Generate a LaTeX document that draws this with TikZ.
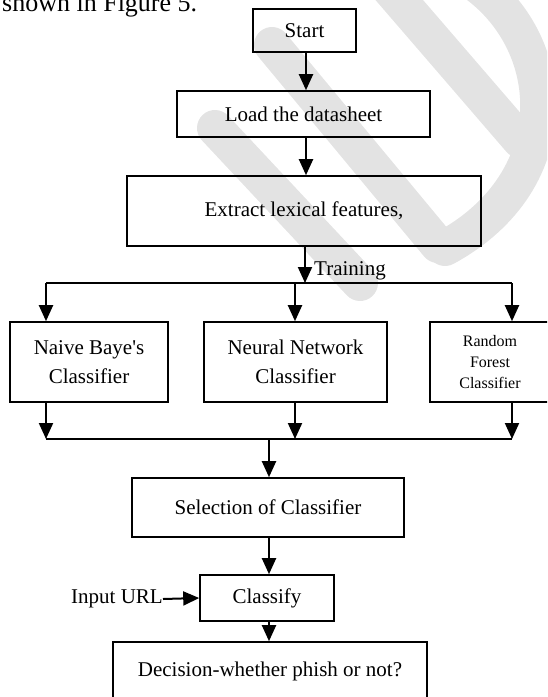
\documentclass[tikz,border=0pt]{standalone}
\usepackage{fontspec}
\setmainfont{Liberation Serif}
\usetikzlibrary{arrows.meta}
\begin{document}
\begin{tikzpicture}[x=1pt,y=-1pt,
  box/.style={draw, line width=1.6pt, inner sep=0pt, align=center, font=\fontsize{21}{29}\selectfont},
  small/.style={font=\fontsize{16}{21}\selectfont},
  lbl/.style={inner sep=0pt, font=\fontsize{21}{25}\selectfont},
  arr/.style={line width=2pt, -{Triangle[length=16pt,width=14pt]}},
  ln/.style={line width=2pt},
  wm/.style={line width=36pt, line cap=round, color=black!11}]
\useasboundingbox (0,0) rectangle (547,697);
\begin{scope}
\clip (0,0) rectangle (547,697);
% watermark
\draw[wm] (382,-20) -- (520,140);
\draw[wm] (272,45) -- (438,245);
\draw[wm] (215,128) -- (360,283);
\draw[wm] (470,-20) .. controls (560,40) and (570,180) .. (445,248);
% caption fragment
\node[anchor=base west, inner sep=0pt, font=\fontsize{26}{30}\selectfont] (cap) at (2,11) {shown in Figure 5.};
% nodes
\node[box, minimum width=103pt, minimum height=43pt] (start) at (304.5,30.5) {Start};
\node[box, minimum width=253pt, minimum height=46pt] (load) at (303.5,114) {Load the datasheet};
\node[box, minimum width=354pt, minimum height=70pt] (extract) at (304,211) {Extract lexical features,};
\node[box, minimum width=158pt, minimum height=80pt] (naive) at (89,362) {Naive Baye\textquotesingle s\\Classifier};
\node[box, minimum width=183pt, minimum height=80pt] (neural) at (295.5,362) {Neural Network\\Classifier};
\node[box, small, minimum width=120pt, minimum height=80pt] (random) at (490,362) {Random\\Forest\\Classifier};
\node[box, minimum width=272pt, minimum height=59pt] (select) at (268,507.5) {Selection of Classifier};
\node[box, minimum width=134pt, minimum height=46pt] (classify) at (267,598) {Classify};
\node[box, minimum width=314pt, minimum height=58pt] (decision) at (270,671) {Decision-whether phish or not?};
\node[lbl, anchor=east] (input) at (163,599) {Input URL};
% junction coordinates
\coordinate (tl) at (46,283);
\coordinate (tm) at (295,283);
\coordinate (tr) at (512,283);
\coordinate (tj) at (305,283);
\coordinate (bl) at (46,439);
\coordinate (bm) at (295,439);
\coordinate (br) at (512,439);
\coordinate (bj) at (269,439);
\node[lbl, anchor=base west] (train) at (314,275) {Training};
% connectors
\draw[arr] (start.south -| 306,0) -- (load.north -| 306,0);
\draw[arr] (load.south -| 306,0) -- (extract.north -| 306,0);
\draw[arr] (extract.south -| tj) -- (tj);
\draw[ln] (tl) -- (tr);
\draw[arr] (tl) -- (tl |- naive.north);
\draw[arr] (tm) -- (tm |- neural.north);
\draw[arr] (tr) -- (tr |- random.north);
\draw[arr] (naive.south -| bl) -- (bl);
\draw[arr] (neural.south -| bm) -- (bm);
\draw[arr] (random.south -| br) -- (br);
\draw[ln] (bl) -- (br);
\draw[arr] (bj) -- (bj |- select.north);
\draw[arr] (select.south -| bj) -- (classify.north -| bj);
\draw[arr] (classify.south -| bj) -- (decision.north -| bj);
\draw[arr] (input.east) -- (classify.west);
\end{scope}
\end{tikzpicture}
\end{document}
